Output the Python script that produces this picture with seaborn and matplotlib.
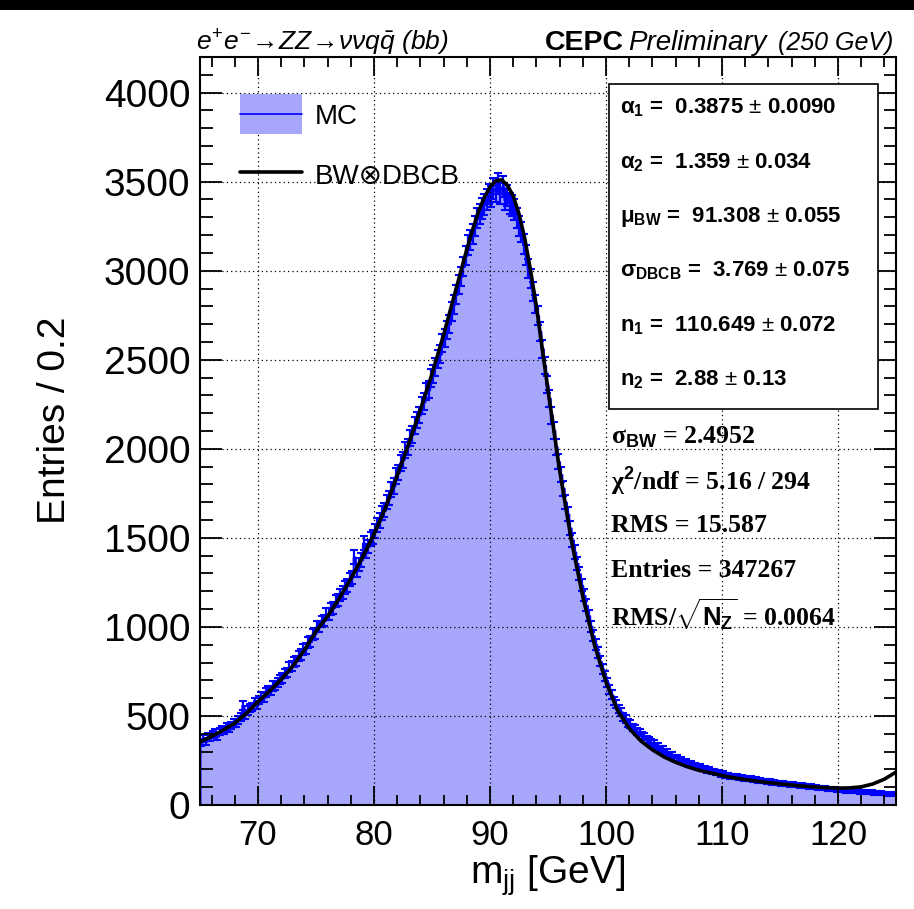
import numpy as np
import pandas as pd
import seaborn as sns
import matplotlib.pyplot as plt
from matplotlib.patches import Rectangle
from matplotlib.lines import Line2D
from matplotlib.ticker import MultipleLocator

# MC bin contents, 0.2 GeV bins from 65 to 125 (5 bins per GeV)
counts = [
    352, 371, 358, 382, 379,      # 65
    394, 405, 386, 414, 421,      # 66
    418, 439, 431, 446, 462,      # 67
    461, 478, 492, 559, 508,      # 68
    531, 546, 549, 578, 561,      # 69
    589, 611, 603, 633, 641,      # 70
    644, 668, 671, 689, 706,      # 71
    712, 739, 744, 776, 779,      # 72
    801, 808, 836, 846, 872,      # 73
    879, 911, 917, 956, 962,      # 74
    1002, 1003, 1031, 1036, 1071,  # 75
    1072, 1102, 1108, 1144, 1151,  # 76
    1181, 1194, 1221, 1232, 1268,  # 77
    1279, 1392, 1318, 1352, 1376,  # 78
    1471, 1425, 1452, 1494, 1506,  # 79
    1538, 1573, 1597, 1638, 1655,  # 80
    1702, 1724, 1773, 1791, 1848,  # 81
    1867, 1921, 1939, 1991, 2011,  # 82
    2062, 2081, 2131, 2162, 2189,  # 83
    2241, 2264, 2323, 2331, 2398,  # 84
    2421, 2458, 2502, 2531, 2594,  # 85
    2622, 2668, 2701, 2769, 2812,  # 86
    2868, 2921, 2968, 3024, 3085,  # 87
    3142, 3171, 3208, 3252, 3296,  # 88
    3318, 3351, 3372, 3402, 3431,  # 89
    3418, 3462, 3447, 3491, 3436,  # 90
    3472, 3398, 3421, 3379, 3366,  # 91
    3344, 3296, 3251, 3219, 3148,  # 92
    3087, 3013, 2958, 2884, 2813,  # 93
    2748, 2659, 2563, 2468, 2361,  # 94
    2284, 2187, 2102, 2011, 1928,  # 95
    1856, 1779, 1701, 1634, 1556,  # 96
    1489, 1421, 1356, 1298, 1234,  # 97
    1177, 1121, 1063, 1004, 951,   # 98
    902, 856, 807, 764, 726,       # 99
    688, 651, 619, 584, 566,       # 100
    538, 524, 495, 484, 462,       # 101
    455, 436, 431, 411, 405,       # 102
    388, 385, 368, 364, 350,       # 103
    347, 331, 329, 314, 311,       # 104
    298, 295, 281, 280, 266,       # 105
    265, 254, 251, 240, 240,       # 106
    231, 232, 221, 221, 212,       # 107
    214, 204, 204, 195, 197,       # 108
    188, 190, 181, 181, 173,       # 109
    175, 167, 168, 161, 163,       # 110
    157, 159, 152, 155, 148,       # 111
    151, 144, 148, 141, 144,       # 112
    137, 139, 133, 136, 130,       # 113
    132, 126, 129, 122, 126,       # 114
    120, 123, 116, 119, 114,       # 115
    117, 110, 114, 107, 111,       # 116
    105, 108, 101, 105, 99,        # 117
    102, 95, 98, 92, 96,           # 118
    89, 93, 86, 90, 84,            # 119
    87, 81, 85, 79, 83,            # 120
    77, 81, 75, 79, 73,            # 121
    77, 71, 75, 69, 73,            # 122
    67, 71, 65, 69, 63,            # 123
    67, 61, 65, 59, 63,            # 124
]

# BW x DBCB fit curve
fit_x = [65, 66, 67, 68, 69, 70, 71, 72, 73, 74, 75, 76, 77, 78, 79, 80,
         81, 82, 83, 84, 85, 86, 87, 88, 88.5, 89, 89.5, 90, 90.5, 91, 91.5,
         92, 92.5, 93, 93.5, 94, 95, 96, 97, 98, 99, 100, 101, 102, 103, 104,
         105, 106, 107, 108, 109, 110, 111, 112, 113, 114, 115, 116, 117, 118,
         119, 120, 121, 122, 123, 124, 125]
fit_y = [355, 385, 420, 460, 515, 580, 640, 705, 780, 870, 975, 1060, 1160,
         1270, 1390, 1520, 1670, 1850, 2030, 2220, 2420, 2640, 2880, 3120,
         3230, 3330, 3410, 3470, 3505, 3510, 3480, 3420, 3320, 3180, 3000,
         2800, 2330, 1880, 1490, 1170, 900, 690, 530, 430, 360, 310, 270, 240,
         215, 195, 180, 165, 153, 143, 134, 126, 119, 112, 106, 101, 97, 95,
         96, 102, 118, 145, 185]

x_ticks = [70, 80, 90, 100, 110, 120]
y_ticks = [0, 500, 1000, 1500, 2000, 2500, 3000, 3500, 4000]

param_lines = [
    "\u03b1$_{\\mathbf{1}}$ =  0.3875 $\\pm$ 0.0090",
    "\u03b1$_{\\mathbf{2}}$ =  1.359 $\\pm$ 0.034",
    "\u03bc$_{\\mathbf{BW}}$ =  91.308 $\\pm$ 0.055",
    "\u03c3$_{\\mathbf{DBCB}}$ =  3.769 $\\pm$ 0.075",
    "n$_{\\mathbf{1}}$ =  110.649 $\\pm$ 0.072",
    "n$_{\\mathbf{2}}$ =  2.88 $\\pm$ 0.13",
]
stat_lines = [
    "\u03c3$_{\\mathbf{BW}}$ = 2.4952",
    "\u03c7$^{\\mathbf{2}}$/ndf = 5.16 / 294",
    "RMS = 15.587",
    "Entries = 347267",
    "RMS/$\\sqrt{\\mathbf{N}_{\\mathbf{Z}}}$ = 0.0064",
]

sns.set_style("ticks")
plt.rcParams["font.family"] = ["Liberation Sans", "DejaVu Sans"]
plt.rcParams["mathtext.fontset"] = "custom"
plt.rcParams["mathtext.rm"] = "Liberation Sans"
plt.rcParams["mathtext.it"] = "Liberation Sans:italic"
plt.rcParams["mathtext.bf"] = "Liberation Sans:bold"
for k in ["text.color", "axes.labelcolor", "xtick.color", "ytick.color", "axes.edgecolor"]:
    plt.rcParams[k] = "black"

W, H = 914, 909
fig = plt.figure(figsize=(W / 100, H / 100), dpi=100)
ax = fig.add_axes([200 / W, 1 - 805 / H, 696 / W, 748 / H])

counts = np.array(counts, dtype=float)
centers = 65.1 + 0.2 * np.arange(len(counts))
df = pd.DataFrame({"mjj": centers, "n": counts})

fill_col = "#a6a6fa"
sns.histplot(data=df, x="mjj", weights="n", binwidth=0.2, binrange=(65, 125),
             element="step", fill=True, color=fill_col, edgecolor="blue",
             linewidth=1.4, alpha=1, ax=ax)
ax.errorbar(centers, counts, yerr=np.sqrt(counts), fmt="none", ecolor="blue",
            elinewidth=1.6, capsize=2.6, capthick=1.5, zorder=2)
sns.lineplot(x=fit_x, y=fit_y, color="black", linewidth=2.6, sort=False,
             estimator=None, ax=ax, zorder=4)

ax.set_xlim(65, 125)
ax.set_ylim(0, 4200)
ax.set_xticks(x_ticks)
ax.set_yticks(y_ticks)
ax.xaxis.set_minor_locator(MultipleLocator(2))
ax.yaxis.set_minor_locator(MultipleLocator(100))
ax.set_xlabel("")
ax.set_ylabel("")
ax.tick_params(which="both", direction="in", top=True, right=True, width=1.3)
ax.tick_params(axis="y", which="major", length=16, labelsize=28, pad=7)
ax.tick_params(axis="y", which="minor", length=9)
ax.tick_params(axis="x", which="major", length=14, labelsize=25, pad=10)
ax.tick_params(axis="x", which="minor", length=7)
for s in ax.spines.values():
    s.set_linewidth(1.5)
ax.grid(True, which="major", color="black", linestyle=(0, (1, 2.5)), linewidth=0.9)
ax.set_axisbelow(False)

# legend drawn by hand
ax.add_patch(Rectangle((0.0575, 0.897), 0.089, 0.0535, transform=ax.transAxes,
                       facecolor=fill_col, edgecolor="none", zorder=5))
ax.add_line(Line2D([0.0575, 0.1466], [0.9238, 0.9238], transform=ax.transAxes,
                   color="blue", linewidth=1.2, zorder=6))
ax.add_line(Line2D([0.0575, 0.1466], [0.8463, 0.8463], transform=ax.transAxes,
                   color="black", linewidth=2.6, zorder=6))
ax.text(0.165, 0.9198, "MC", transform=ax.transAxes, fontsize=20, va="center")
ax.text(0.165, 0.8396, "BW\u2297DBCB", transform=ax.transAxes, fontsize=20, va="center")

# fit parameter box
fig.add_artist(Rectangle((609 / W, 1 - 409 / H), 269 / W, 325 / H,
                         transform=fig.transFigure, facecolor="white",
                         edgecolor="black", linewidth=1.2, zorder=2))
for i, t in enumerate(param_lines):
    fig.text(620 / W, 1 - (108 + i * 54.4) / H, t, fontsize=16, fontweight="bold",
             va="center", ha="left", zorder=3)

for i, t in enumerate(stat_lines):
    fig.text(611 / W, 1 - (437 + i * 44.5) / H, t, fontsize=18.5, fontweight="bold",
             family="Liberation Serif", va="center", ha="left", zorder=3)

# header texts
fig.text(196 / W, 1 - 50 / H,
         r"$e^{+}e^{-}\!\rightarrow\!ZZ\!\rightarrow\!\nu\nu q\bar{q}$ (bb)",
         fontsize=19, style="italic", va="baseline")
fig.text(545 / W, 1 - 50 / H, "CEPC", fontsize=20.5, fontweight="bold", va="baseline")
fig.text(628 / W, 1 - 50 / H, "Preliminary", fontsize=20, style="italic", va="baseline")
fig.text(778 / W, 1 - 50 / H, "(250 GeV)", fontsize=18, style="italic", va="baseline")

fig.text(55 / W, 1 - 420 / H, "Entries / 0.2", fontsize=28, rotation=90,
         ha="center", va="center")
fig.text(548 / W, 1 - 884 / H, r"m$_{\mathregular{jj}}$ [GeV]", fontsize=28,
         ha="center", va="baseline")

fig.add_artist(Rectangle((0, 1 - 10 / H), 1, 10 / H, transform=fig.transFigure,
                         facecolor="black", edgecolor="none"))

fig.savefig("out.png", dpi=100)
